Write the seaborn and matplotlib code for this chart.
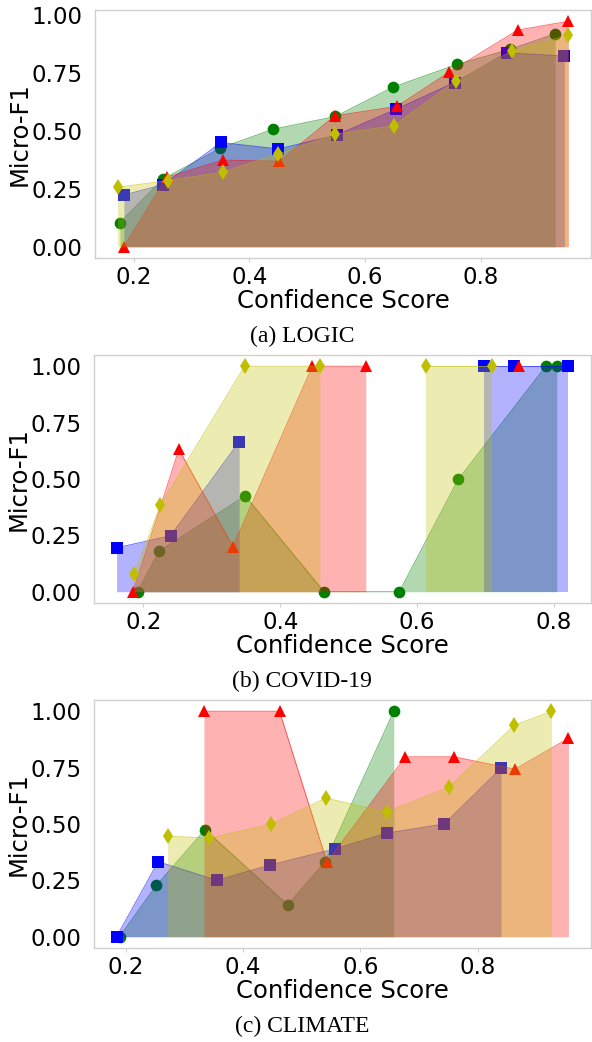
import numpy as np
import pandas as pd
import matplotlib
matplotlib.use("Agg")
import matplotlib.pyplot as plt
import seaborn as sns

nan = np.nan

# ---------------- (a) LOGIC ----------------
logic_green_x = [0.176, 0.251, 0.350, 0.441, 0.549, 0.649, 0.759, 0.851, 0.929]
logic_green_y = [0.104, 0.292, 0.425, 0.506, 0.561, 0.688, 0.785, 0.850, 0.917]
logic_blue_x = [0.183, 0.251, 0.351, 0.450, 0.551, 0.654, 0.755, 0.846, 0.945]
logic_blue_y = [0.223, 0.267, 0.449, 0.421, 0.481, 0.592, 0.707, 0.835, 0.821]
logic_red_x = [0.183, 0.257, 0.354, 0.452, 0.548, 0.655, 0.746, 0.864, 0.952]
logic_red_y = [0.000, 0.299, 0.373, 0.368, 0.564, 0.604, 0.752, 0.933, 0.971]
logic_yellow_x = [0.172, 0.259, 0.354, 0.450, 0.549, 0.650, 0.757, 0.855, 0.951]
logic_yellow_y = [0.256, 0.285, 0.321, 0.399, 0.485, 0.521, 0.714, 0.843, 0.910]

# ---------------- (b) COVID-19 ----------------
covid_green_x = [0.192, 0.223, 0.349, 0.464, 0.574, 0.660, 0.788, 0.804]
covid_green_y = [0.000, 0.180, 0.425, 0.000, 0.000, 0.498, 1.000, 1.000]
covid_blue_x = [0.161, 0.240, 0.340, nan, 0.698, 0.742, 0.821]
covid_blue_y = [0.195, 0.248, 0.665, nan, 1.000, 1.000, 1.000]
covid_red_x = [0.185, 0.252, 0.331, 0.447, 0.525, nan, 0.749]
covid_red_y = [0.000, 0.631, 0.200, 1.000, 1.000, nan, 1.000]
covid_yellow_x = [0.187, 0.225, 0.348, 0.458, nan, 0.613, 0.709]
covid_yellow_y = [0.078, 0.384, 1.000, 1.000, nan, 1.000, 1.000]

# ---------------- (c) CLIMATE ----------------
climate_green_x = [0.189, 0.252, 0.335, 0.476, 0.540, 0.657]
climate_green_y = [0.000, 0.228, 0.475, 0.141, 0.333, 1.000]
climate_blue_x = [0.184, 0.255, 0.355, 0.446, 0.557, 0.646, 0.743, 0.840]
climate_blue_y = [0.000, 0.333, 0.250, 0.318, 0.390, 0.460, 0.500, 0.747]
climate_red_x = [0.333, 0.462, 0.543, 0.677, 0.760, 0.864, 0.955]
climate_red_y = [1.000, 1.000, 0.331, 0.798, 0.798, 0.743, 0.880]
climate_yellow_x = [0.271, 0.342, 0.448, 0.541, 0.645, 0.751, 0.863, 0.926]
climate_yellow_y = [0.446, 0.438, 0.500, 0.615, 0.553, 0.663, 0.938, 1.000]

captions = ["(a) LOGIC", "(b) COVID-19", "(c) CLIMATE"]
xlabel = "Confidence Score"
ylabel = "Micro-F1"
yticks = [0.0, 0.25, 0.5, 0.75, 1.0]
xticks = [0.2, 0.4, 0.6, 0.8]

panels = [
    [(logic_green_x, logic_green_y), (logic_blue_x, logic_blue_y),
     (logic_red_x, logic_red_y), (logic_yellow_x, logic_yellow_y)],
    [(covid_green_x, covid_green_y), (covid_blue_x, covid_blue_y),
     (covid_red_x, covid_red_y), (covid_yellow_x, covid_yellow_y)],
    [(climate_green_x, climate_green_y), (climate_blue_x, climate_blue_y),
     (climate_red_x, climate_red_y), (climate_yellow_x, climate_yellow_y)],
]
styles = [("#008000", "o", 8.4), ("#0000ff", "s", 8.4),
          ("#ff0000", "^", 8.8), ("#bfbf00", "d", 7.8)]

sns.set_theme(style="white")
plt.rcParams["font.family"] = ["DejaVu Sans"]
for key in ["text.color", "axes.labelcolor", "xtick.color", "ytick.color"]:
    plt.rcParams[key] = "black"

W, H = 592, 1042
fig = plt.figure(figsize=(W / 100, H / 100), dpi=100)

axes_px = [(95, 10, 591, 258), (94, 355, 591, 603), (94, 700, 591, 948)]


def draw_series(ax, xs, ys, color, marker, ms, z):
    df = pd.DataFrame({"x": xs, "y": ys})
    df["seg"] = df["y"].isna().cumsum()
    df = df.dropna()
    for _, g in df.groupby("seg"):
        ax.fill_between(g["x"].values, 0, g["y"].values, color=color,
                        alpha=0.3, lw=0, zorder=z)
    sns.lineplot(data=df, x="x", y="y", units="seg", estimator=None,
                 sort=False, color=color, lw=0.7, alpha=0.55, ax=ax,
                 zorder=z + 0.4, legend=False)
    sns.lineplot(data=df, x="x", y="y", units="seg", estimator=None,
                 sort=False, color=color, marker=marker, markersize=ms,
                 markeredgewidth=0, linestyle="", ax=ax, zorder=z + 0.5,
                 legend=False)


for i, (series, (l, t, r, b)) in enumerate(zip(panels, axes_px)):
    ax = fig.add_axes([l / W, 1 - b / H, (r - l) / W, (b - t) / H])
    for k, ((xs, ys), (c, m, ms)) in enumerate(zip(series, styles)):
        draw_series(ax, xs, ys, c, m, ms, 2 + 2 * k)
    ax.margins(0.05)
    ax.set_yticks(yticks)
    ax.set_yticklabels([f"{v:.2f}" for v in yticks])
    ax.set_xticks(xticks)
    ax.set_xticklabels([f"{v:.1f}" for v in xticks])
    ax.tick_params(axis="both", labelsize=16.5, pad=3, labelcolor="black")
    ax.tick_params(axis="x", bottom=True, length=3, color="#d0d0d0", width=0.8)
    ax.tick_params(axis="y", left=False)
    ax.set_xlabel(xlabel, fontsize=17.5, labelpad=0, color="black")
    ax.set_ylabel(ylabel, fontsize=17.5, labelpad=0, color="black")
    for s in ax.spines.values():
        s.set_color("#d0d0d0")
        s.set_linewidth(1.0)
    ax.grid(False)
    cy = b + 78.7
    fig.text(302 / W, 1 - cy / H, captions[i], ha="center", va="center",
             fontsize=17, color="black",
             family=["Liberation Serif", "DejaVu Serif"])

fig.savefig("out.png", dpi=100)
